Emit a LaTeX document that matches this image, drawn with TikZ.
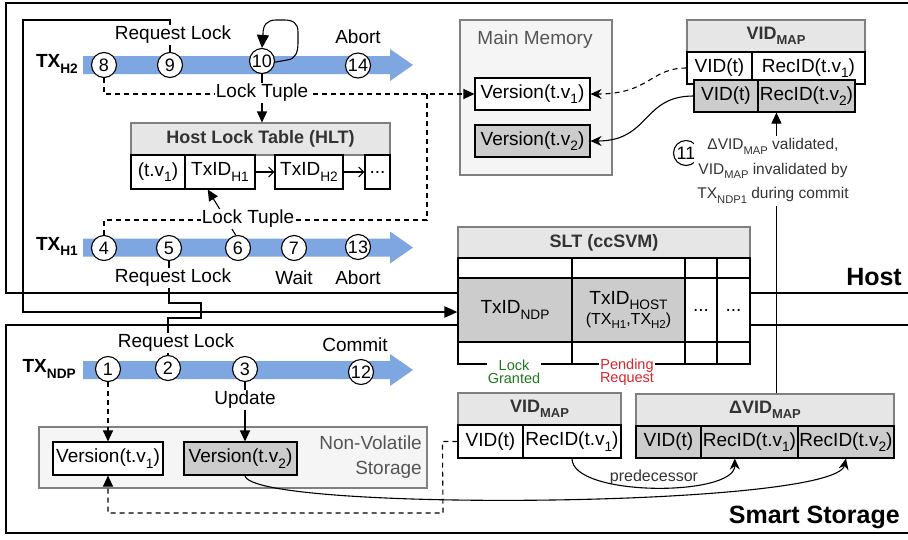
\documentclass[tikz,border=0pt]{standalone}
\usepackage{fontspec}
\setmainfont{Liberation Sans}
\usetikzlibrary{arrows.meta,calc}
\definecolor{txblue}{HTML}{7EA6E0}
\definecolor{cellgray}{HTML}{CCCCCC}
\definecolor{headgray}{HTML}{E6E6E6}
\definecolor{panelgray}{HTML}{F5F5F5}
\definecolor{edgegray}{HTML}{808080}
\definecolor{labelgray}{HTML}{555555}
\definecolor{headtext}{HTML}{333333}
\definecolor{grantgreen}{HTML}{1F7A1F}
\definecolor{pendred}{HTML}{D9262C}
% subscript at 72% of the current size, lowered like the drawing's labels
\makeatletter
\newcommand{\sub}[1]{\raisebox{-0.3em}{\fontsize{\strip@pt\dimexpr 0.72\dimexpr\f@size pt\relax\relax}{1}\selectfont #1}}
\makeatother
% blue transaction timeline arrow centred on the given y
\newcommand{\txbar}[1]{\fill[txblue] (83,#1-9) -- (390,#1-9) -- (390,#1-16) -- (413,#1) -- (390,#1+16) -- (390,#1+9) -- (83,#1+9) -- cycle;}

\tikzset{
  frameline/.style={line width=2.8pt},
  stepnum/.style={circle, draw, fill=white, line width=1.1pt, minimum size=25pt, inner sep=0pt, font=\fontsize{18}{18}\selectfont},
  lbl/.style={fill=white, inner sep=1pt, font=\fontsize{19}{22}\selectfont},
  cell/.style={draw, line width=1.1pt, inner sep=0pt, font=\fontsize{19}{22}\selectfont},
  whitecell/.style={cell, fill=white},
  graycell/.style={cell, fill=cellgray},
  tablehead/.style={draw=edgegray, line width=1.1pt, fill=headgray, inner sep=0pt, text=headtext, font=\bfseries\fontsize{18}{22}\selectfont},
  panel/.style={draw=edgegray, line width=1.1pt, fill=panelgray},
  conn/.style={line width=1.1pt},
  dashline/.style={line width=1.1pt, dash pattern=on 5pt off 4pt},
  tri/.style={-{Triangle[length=11pt,width=10pt]}},
  stl/.style={-{Stealth[length=11pt,width=10pt]}},
  txname/.style={font=\bfseries\fontsize{19}{22}\selectfont, anchor=east, inner sep=0pt},
  region/.style={font=\bfseries\fontsize{25}{28}\selectfont, anchor=east, inner sep=0pt},
}

\begin{document}
\begin{tikzpicture}[x=1pt,y=-1pt]
\useasboundingbox (0,0) rectangle (908,539);
\fill[white] (0,0) rectangle (908,539);

% ---------- domain frames ----------
\draw[frameline] (908,3) -- (6,3) -- (6,293) -- (908,293);
\draw[frameline] (908,325) -- (6,325) -- (6,533) -- (908,533);
\node[region] (host) at (902,277) {Host};
\node[region] (smart) at (900,517) {Smart Storage};

% ---------- timelines ----------
\txbar{65}
\txbar{247.5}
\txbar{370}
\node[txname] (txh2) at (78,64) {TX\sub{H2}};
\node[txname] (txh1) at (78,246.5) {TX\sub{H1}};
\node[txname] (txndp) at (76,369) {TX\sub{NDP}};

\node[stepnum] (c8) at (104,65) {8};
\node[stepnum] (c9) at (170,65) {9};
\node[stepnum] (c10) at (262,61) {10};
\node[stepnum] (c14) at (358,65.5) {14};

\node[stepnum] (c4) at (104,248) {4};
\node[stepnum] (c5) at (169,248) {5};
\node[stepnum] (c6) at (238,248) {6};
\node[stepnum] (c7) at (294,248) {7};
\node[stepnum] (c13) at (358,247) {13};

\node[stepnum] (c1) at (108,369) {1};
\node[stepnum] (c2) at (168,368) {2};
\node[stepnum] (c3) at (245,369) {3};
\node[stepnum] (c12) at (361,372) {12};

% ---------- Host Lock Table ----------
\node[tablehead, minimum width=259pt, minimum height=32pt] (hlth) at (260.5,139) {Host Lock Table (HLT)};
\node[whitecell, minimum width=54pt, minimum height=34pt] (tv1) at (158,172) {(t.v\sub{1})};
\node[whitecell, minimum width=70pt, minimum height=34pt] (h1) at (220,172) {TxID\sub{H1}};
\node[whitecell, minimum width=68pt, minimum height=34pt] (h2) at (309,172) {TxID\sub{H2}};
\node[whitecell, minimum width=25pt, minimum height=34pt] (hd) at (377.5,172) {...};
\draw[conn, -{Straight Barb[length=5pt,width=10pt]}] (h1.east) -- (h2.west);
\draw[conn, -{Straight Barb[length=5pt,width=10pt]}] (h2.east) -- (hd.west);

% ---------- Main Memory ----------
\node[panel, minimum width=152pt, minimum height=155pt] (mm) at (536,97.5) {};
\node[text=labelgray, font=\fontsize{19}{22}\selectfont] (mmt) at (535,40) {Main Memory};
\node[whitecell, minimum width=115pt, minimum height=32pt] (mmv1) at (532.5,94) {Version(t.v\sub{1})};
\node[graycell, minimum width=115pt, minimum height=32pt] (mmv2) at (532.5,141) {Version(t.v\sub{2})};

% ---------- host VID map ----------
\node[tablehead, minimum width=178pt, minimum height=32pt] (hvh) at (776,36) {VID\sub{MAP}};
\node[whitecell, minimum width=65pt, minimum height=32pt] (r1a) at (719.5,68) {VID(t)};
\node[whitecell, minimum width=113pt, minimum height=32pt] (r1b) at (808.5,68) {RecID(t.v\sub{1})};
\node[graycell, minimum width=64pt, minimum height=32pt] (r2a) at (726,96) {VID(t)};
\node[graycell, minimum width=97pt, minimum height=32pt] (r2b) at (806.5,96) {RecID(t.v\sub{2})};

% ---------- SLT ----------
\node[tablehead, minimum width=292pt, minimum height=31pt] (slth) at (604,242.5) {SLT (ccSVM)};
\foreach \nm/\cx/\w in {1/515/114, 2/628.5/113, 3/701/32, 4/733.5/33} {
  \node[whitecell, minimum width=\w pt, minimum height=20pt] (s1\nm) at (\cx,268) {};
  \node[whitecell, minimum width=\w pt, minimum height=22pt] (s3\nm) at (\cx,353) {};
}
\node[graycell, minimum width=114pt, minimum height=64pt] (s21) at (515,310) {TxID\sub{NDP}};
\node[graycell, minimum width=113pt, minimum height=64pt, align=center] (s22) at (628.5,310)
  {TxID\sub{HOST}\\[-2pt]{\fontsize{16}{18}\selectfont(TX\sub{H1},TX\sub{H2})}};
\node[whitecell, minimum width=32pt, minimum height=64pt] (s23) at (701,310) {...};
\node[whitecell, minimum width=33pt, minimum height=64pt] (s24) at (733.5,310) {...};
\node[fill=white, inner sep=1pt, text=grantgreen, align=center, font=\fontsize{14.5}{13.5}\selectfont] (grant) at (514,372) {Lock\\Granted};
\node[fill=white, inner sep=1pt, text=pendred, align=center, font=\fontsize{14.5}{13.5}\selectfont] (pend) at (627,372) {Pending\\Request};

% ---------- smart storage VID maps ----------
\node[tablehead, minimum width=163pt, minimum height=32pt] (svh) at (539.5,409) {VID\sub{MAP}};
\node[whitecell, minimum width=65pt, minimum height=33pt] (sva) at (490.5,441.5) {VID(t)};
\node[whitecell, minimum width=98pt, minimum height=33pt] (svb) at (572,441.5) {RecID(t.v\sub{1})};

\node[tablehead, minimum width=258pt, minimum height=32pt] (dvh) at (765,410) {ΔVID\sub{MAP}};
\node[graycell, minimum width=65pt, minimum height=32pt] (dva) at (668.5,442) {VID(t)};
\node[graycell, minimum width=97pt, minimum height=32pt] (dv1) at (749.5,442) {RecID(t.v\sub{1})};
\node[graycell, minimum width=96pt, minimum height=32pt] (dv2) at (846,442) {RecID(t.v\sub{2})};

% ---------- non-volatile storage ----------
\node[panel, minimum width=388pt, minimum height=61pt] (nvs) at (233,457.5) {};
\node[text=labelgray, align=right, anchor=east, inner sep=0pt, font=\fontsize{19}{25}\selectfont] (nvst) at (422,457.5) {Non-Volatile\\Storage};
\node[whitecell, minimum width=110pt, minimum height=33pt] (nv1) at (108,458.5) {Version(t.v\sub{1})};
\node[graycell, minimum width=113pt, minimum height=33pt] (nv2) at (240.5,458.5) {Version(t.v\sub{2})};

% ---------- lock requests to the SLT ----------
\coordinate (jog) at (201,312);
\draw[conn] (c9.north) |- (23,20) -- (23,312) -- (jog);
\draw[conn] (c5.south) |- (201,303) -- (jog);
\draw[conn] (c2.north) |- (201,318) -- (jog);
\draw[line width=2.2pt, -{Triangle[length=13pt,width=11pt]}] (jog) -- (jog -| s21.west);

% self loop on step 10
\draw[conn, -{Triangle[length=13pt,width=12pt]}] (c10.-5) -- (287,60)
  .. controls (296,59) and (298,52) .. (298,42) -- (298,32)
  .. controls (298,23) and (293,20) .. (284,20) -- (276,20)
  .. controls (267,20) and (263,25) .. (263,34) -- (c10.north);

% lock tuples
\coordinate (split) at (427,94);
\draw[dashline, tri] (c8.south) |- (mmv1.west);
\draw[dashline] (split) -- (427,220) -| (c4.north);
\draw[conn, tri] (c10.south) -- (c10.south |- hlth.north);
\draw[conn, tri] (c6.100) -- (h1.235);

% host VID map to main memory versions
\draw[dashline, stl] (r1a.west) .. controls (650,68) and (650,94) .. (mmv1.east);
\draw[conn, stl] (r2a.west) .. controls (642,96) and (650,141) .. (mmv2.east);

% validation of the delta map
\coordinate (vtop) at ($(r2b.south west)+(19,0)$);
\draw[conn, tri] (vtop |- dvh.north) -- (vtop);
\node[stepnum, draw, fill=white] (c11) at (686,153) {11};
\node[fill=white, inner sep=3pt, align=center, text=headtext, font=\fontsize{15.5}{24.5}\selectfont] (valid) at (773,171)
  {ΔVID\sub{MAP} validated,\\VID\sub{MAP} invalidated by\\TX\sub{NDP1} during commit};

% NDP accesses to storage
\draw[dashline, tri] (c1.south) -- (nv1.north);
\draw[conn, tri] (c3.south) -- (c3.south |- nv2.north);
\draw[dashline, tri] (sva.west) -- ++(-15,0) -- (443,513) -| (nv1.south);
\draw[conn, stl] (c3.south |- nv2.south) .. controls (250,512) and (835,508) .. (dv2.south);
\coordinate (dvp) at ($(dv1.south west)!0.35!(dv1.south east)$);
\draw[conn, stl] (svb.south) .. controls (572,497) and (735,497) .. (dvp);
\node[font=\fontsize{16}{18}\selectfont, text=headtext] (pred) at (654,477) {predecessor};

% labels sitting on the connectors
\node[lbl] (rl2) at (173,35) {Request Lock};
\node[lbl] (ab2) at (358,37) {Abort};
\node[lbl] (lt2) at (262,93) {Lock Tuple};
\node[lbl] (lt1) at (248,219) {Lock Tuple};
\node[lbl] (rl1) at (173,278) {Request Lock};
\node[lbl] (wt1) at (294,278) {Wait};
\node[lbl] (ab1) at (358,278) {Abort};
\node[lbl] (rln) at (176,343) {Request Lock};
\node[lbl] (cmn) at (355,345) {Commit};
\node[lbl] (upd) at (245,400) {Update};
\end{tikzpicture}
\end{document}
